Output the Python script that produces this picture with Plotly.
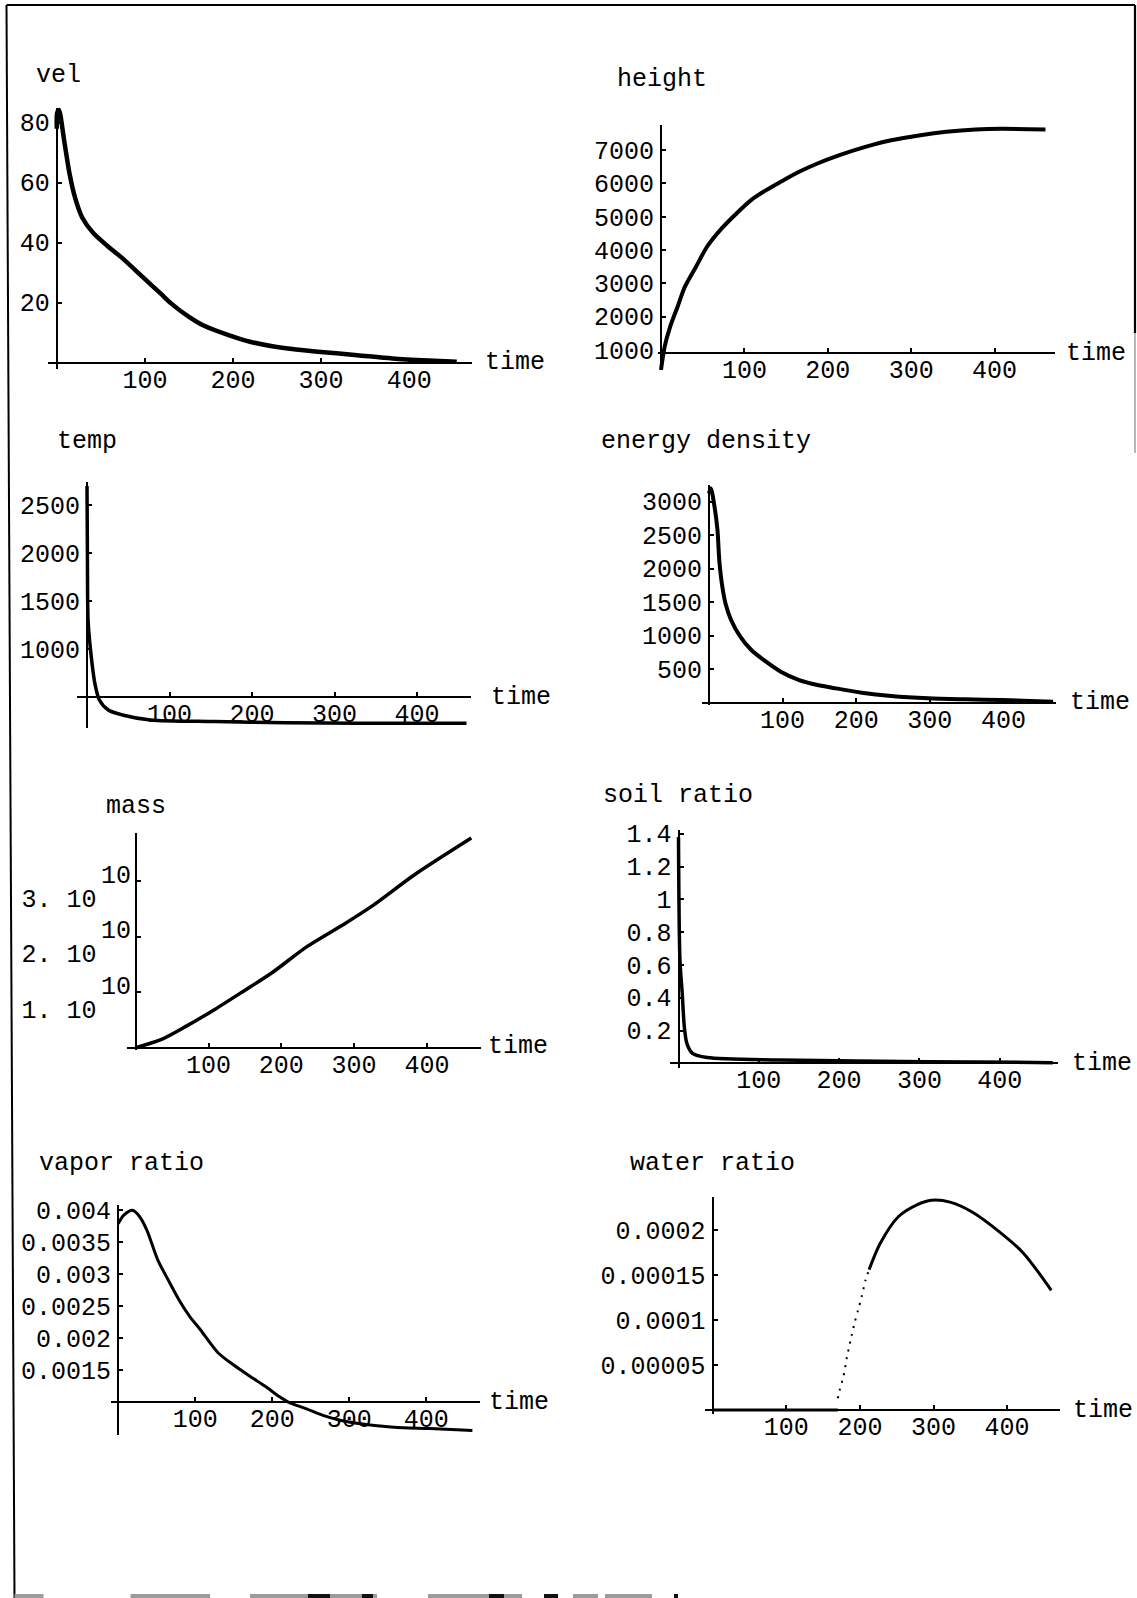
import plotly.graph_objects as go

W, H = 1137, 1598
FONT = "Liberation Mono, Courier New, monospace"
FS = 25

# ---------------- data ----------------
vel_t = [0, 0.4, 2.4, 8.5, 14.6, 20.7, 28.8, 40.9, 57.2, 73.4, 97.7, 118, 130, 150.4,
         166.6, 195, 219.3, 260, 300, 341, 381, 422, 454]
vel_v = [78, 83.2, 84.3, 73.8, 62.8, 55, 48.4, 43.4, 39, 35.1, 28.5, 23, 19.7, 15.2,
         12.4, 9.2, 7.0, 4.8, 3.6, 2.5, 1.4, 0.7, 0.3]

height_t = [0, 4.4, 11, 19.9, 28.7, 42, 55.2, 72.8, 90.5, 108, 126, 143.5, 165.6,
            187.6, 214, 245, 276, 311, 342, 377, 408, 461]
height_v = [400, 1100, 1700, 2300, 2900, 3500, 4100, 4650, 5100, 5500, 5800, 6050, 6350,
            6600, 6850, 7100, 7300, 7450, 7550, 7620, 7640, 7620]

temp_t = [0, 0.5, 1.3, 4.3, 9.5, 15, 25.8, 43, 77, 155, 241, 327, 460]
temp_v = [2700, 2000, 1305, 993, 646, 472, 368, 316, 264, 247, 235, 230, 229]

energy_t = [0, 2.5, 7.5, 11.5, 14, 17.5, 22.5, 30, 42.5, 57.5, 77.5, 97.5, 122.5,
            147.5, 172.5, 207.5, 247.5, 297.5, 347.5, 397.5, 467.5]
energy_v = [3124, 3199, 2925, 2577, 2124, 1776, 1478, 1234, 985, 786, 612, 463, 338,
            264, 214, 149, 100, 65, 50, 40, 15]

mass_t = [0, 34.6, 69, 108, 147.5, 186.7, 235.7, 284.9, 324, 383, 461]
mass_v = [0.0, 0.144e10, 0.384e10, 0.685e10, 1.014e10, 1.346e10, 1.825e10, 2.216e10,
          2.546e10, 3.117e10, 3.778e10]

soil_t = [0, 1.8, 4.6, 7.3, 10.5, 17.4, 35.7, 127, 310, 466]
soil_v = [1.38, 0.63, 0.43, 0.22, 0.12, 0.061, 0.035, 0.02, 0.01, 0.004]

vapor_t = [0, 7, 18.6, 27.9, 37.2, 51.2, 65, 79, 93, 107, 130, 149, 172, 191, 209,
           223, 242, 265, 288, 312, 358, 405, 460]
vapor_v = [0.00379, 0.00392, 0.00400, 0.00390, 0.00369, 0.00323, 0.00291, 0.00260,
           0.00234, 0.00213, 0.00177, 0.00159, 0.00140, 0.00125, 0.00109, 0.00099,
           0.00091, 0.00080, 0.00072, 0.00067, 0.00061, 0.00059, 0.00056]

water_zero_t = [0, 170]
water_zero_v = [0, 0]
water_dot_t = [170, 172.5, 177.5, 182.5, 187.5, 192.5, 197.5, 202.5, 207.5, 212.5]
water_dot_v = [0.000013, 0.000022, 0.000037, 0.000059, 0.000078, 0.000096, 0.000111,
               0.000126, 0.000144, 0.000156]
water_t = [212.5, 227.5, 252.5, 277.5, 297.5, 322.5, 352.5, 392.5, 422.5, 460]
water_v = [0.000156, 0.000185, 0.000215, 0.000228, 0.000233, 0.000231, 0.000220,
           0.000196, 0.000174, 0.000133]

time_ticks = [100, 200, 300, 400]
time_labels = ["100", "200", "300", "400"]

vel_ticks = [20, 40, 60, 80]
height_ticks = [1000, 2000, 3000, 4000, 5000, 6000, 7000]
temp_ticks = [1000, 1500, 2000, 2500]
energy_ticks = [500, 1000, 1500, 2000, 2500, 3000]
mass_ticks = [1e10, 2e10, 3e10]
mass_labels = ["1. 10", "2. 10", "3. 10"]
mass_exponent = "10"
soil_ticks = [0.2, 0.4, 0.6, 0.8, 1.0, 1.2, 1.4]
soil_labels = ["0.2", "0.4", "0.6", "0.8", "1", "1.2", "1.4"]
vapor_ticks = [0.0015, 0.002, 0.0025, 0.003, 0.0035, 0.004]
vapor_labels = ["0.0015", "0.002", "0.0025", "0.003", "0.0035", "0.004"]
water_ticks = [0.00005, 0.0001, 0.00015, 0.0002]
water_labels = ["0.00005", "0.0001", "0.00015", "0.0002"]

titles = ["vel", "height", "temp", "energy density", "mass", "soil ratio",
          "vapor ratio", "water ratio"]
x_label = "time"

# ---------------- layout (pixel geometry of each panel) ----------------
# x0: pixel of t=0, xs: px per unit time, y0: pixel of the axis crossing value
panels = [
    dict(x0=56.8, xs=0.881, tmin=-10, tmax=471, y0=362.7, yc=0, ys=3.0, ymin=-2, ymax=85,
         title=(34, 75), tlab=(483, 362.7)),
    dict(x0=661, xs=0.834, tmin=-3, tmax=472, y0=353.3, yc=900, ys=0.0333, ymin=400, ymax=7750,
         title=(615, 79.5), tlab=(1064, 354)),
    dict(x0=87, xs=0.825, tmin=-12, tmax=466, y0=697.3, yc=500, ys=0.096, ymin=180, ymax=2745,
         title=(55, 441.7), tlab=(489, 697)),
    dict(x0=709, xs=0.736, tmin=-10, tmax=472, y0=702.7, yc=0, ys=0.067, ymin=-40, ymax=3250,
         title=(599, 441.7), tlab=(1068, 702)),
    dict(x0=135.7, xs=0.728, tmin=-12, tmax=474, y0=1047.7, yc=0, ys=5.55e-9, ymin=-0.05e10,
         ymax=3.87e10, title=(104, 806.7), tlab=(486, 1046)),
    dict(x0=678.5, xs=0.803, tmin=-10, tmax=473, y0=1063.3, yc=0, ys=164, ymin=-0.03, ymax=1.42,
         title=(601, 795), tlab=(1070, 1063)),
    dict(x0=118.2, xs=0.77, tmin=-10, tmax=470, y0=1402.3, yc=0.001, ys=64000, ymin=0.00049,
         ymax=0.00408, title=(37, 1163.3), tlab=(487, 1402)),
    dict(x0=712.7, xs=0.736, tmin=-10, tmax=472, y0=1410, yc=0, ys=900000, ymin=-0.000004,
         ymax=0.000237, title=(628, 1163.3), tlab=(1071, 1410)),
]

yticks = [
    (vel_ticks, [str(v) for v in vel_ticks]),
    (height_ticks, [str(v) for v in height_ticks]),
    (temp_ticks, [str(v) for v in temp_ticks]),
    (energy_ticks, [str(v) for v in energy_ticks]),
    (mass_ticks, mass_labels),
    (soil_ticks, soil_labels),
    (vapor_ticks, vapor_labels),
    (water_ticks, water_labels),
]

series = [
    [(vel_t, vel_v, 4.5, "solid")],
    [(height_t, height_v, 4, "solid")],
    [(temp_t, temp_v, 3.5, "solid")],
    [(energy_t, energy_v, 4, "solid")],
    [(mass_t, mass_v, 3.5, "solid")],
    [(soil_t, soil_v, 3.5, "solid")],
    [(vapor_t, vapor_v, 3, "solid")],
    [(water_zero_t, water_zero_v, 3, "solid"),
     (water_dot_t, water_dot_v, 2, "2px,6px"),
     (water_t, water_v, 3, "solid")],
]

fig = go.Figure()
font = dict(family=FONT, size=FS, color="black")
annotations = []
shapes = []

for i, p in enumerate(panels, start=1):
    sfx = "" if i == 1 else str(i)
    xd = [(p["x0"] + p["tmin"] * p["xs"]) / W, (p["x0"] + p["tmax"] * p["xs"]) / W]
    ytop = p["y0"] - (p["ymax"] - p["yc"]) * p["ys"]
    ybot = p["y0"] + (p["yc"] - p["ymin"]) * p["ys"]
    yd = [1 - ybot / H, 1 - ytop / H]
    tv, tt = yticks[i - 1]
    common = dict(showgrid=False, zeroline=False, showline=True, linecolor="black",
                  linewidth=2.2, ticks="inside", ticklen=4, tickwidth=1.5,
                  tickcolor="black", tickfont=font, anchor="free", fixedrange=True,
                  automargin=False)
    fig.layout["xaxis" + sfx] = dict(domain=xd, range=[p["tmin"], p["tmax"]],
                                     position=1 - p["y0"] / H, tickvals=time_ticks,
                                     ticktext=time_labels, ticklabelstandoff=-6, **common)
    ykw = dict(domain=yd, range=[p["ymin"], p["ymax"]], position=p["x0"] / W,
               tickvals=tv, ticktext=tt, ticklabelstandoff=1)
    if i == 5:
        ykw["ticklabelshift"] = 17
        ykw["ticklabelstandoff"] = 33
    fig.layout["yaxis" + sfx] = dict(**ykw, **common)

    for (tx, vy, lw, dash) in series[i - 1]:
        fig.add_trace(go.Scatter(x=tx, y=vy, mode="lines", xaxis="x" + sfx, yaxis="y" + sfx,
                                 line=dict(color="black", width=lw, dash=dash,
                                           shape="spline", smoothing=0.8),
                                 showlegend=False, hoverinfo="skip"))

    annotations.append(dict(text=titles[i - 1], xref="paper", yref="paper",
                            x=p["title"][0] / W, y=1 - p["title"][1] / H,
                            xanchor="left", yanchor="middle", showarrow=False, font=font))
    annotations.append(dict(text=x_label, xref="paper", yref="paper",
                            x=p["tlab"][0] / W, y=1 - p["tlab"][1] / H,
                            xanchor="left", yanchor="middle", showarrow=False, font=font))

# exponents of the mass tick labels ("10" on the line above)
for v in mass_ticks:
    annotations.append(dict(text=mass_exponent, xref="paper", yref="y5",
                            x=(panels[4]["x0"] - 3) / W, y=v, yshift=5,
                            xanchor="right", yanchor="middle", showarrow=False, font=font))

# page frame of the scanned figure
def pline(x0, y0, x1, y1, w=2, c="black"):
    return dict(type="line", xref="paper", yref="paper", x0=x0 / W, y0=1 - y0 / H,
                x1=x1 / W, y1=1 - y1 / H, line=dict(color=c, width=w))

shapes.append(pline(6.5, 5, 1135, 5, 2.2))
shapes.append(pline(6.5, 5, 14.5, 1598, 2))
shapes.append(pline(1135, 5, 1135, 333, 2.2))
shapes.append(pline(1135, 333, 1135, 453, 1.2, "#888888"))

gray_bits = [(14.5, 43.5), (130.5, 210), (250, 377), (428, 522), (573, 598), (605, 652)]
black_bits = [(308, 330), (362, 373), (489, 504), (544, 558), (674, 678)]
for a, b in gray_bits:
    shapes.append(dict(type="rect", xref="paper", yref="paper", x0=a / W, x1=b / W,
                       y0=0, y1=4 / H, line=dict(width=0), fillcolor="#9c9c9c"))
for a, b in black_bits:
    shapes.append(dict(type="rect", xref="paper", yref="paper", x0=a / W, x1=b / W,
                       y0=0, y1=4 / H, line=dict(width=0), fillcolor="#111111"))

fig.update_layout(width=W, height=H, margin=dict(l=0, r=0, t=0, b=0, autoexpand=False),
                  paper_bgcolor="white", plot_bgcolor="rgba(0,0,0,0)",
                  annotations=annotations, shapes=shapes, showlegend=False,
                  font=font)

post = (
    "document.documentElement.style.margin='0';"
    "document.body.style.margin='0';document.body.style.padding='0';"
    "document.body.style.overflow='hidden';"
    "var g=document.getElementsByClassName('plotly-graph-div')[0];"
    "g.style.position='absolute';g.style.top='0px';g.style.left='0px';"
)
fig.write_html("out.html", post_script=post, config={"displayModeBar": False})
